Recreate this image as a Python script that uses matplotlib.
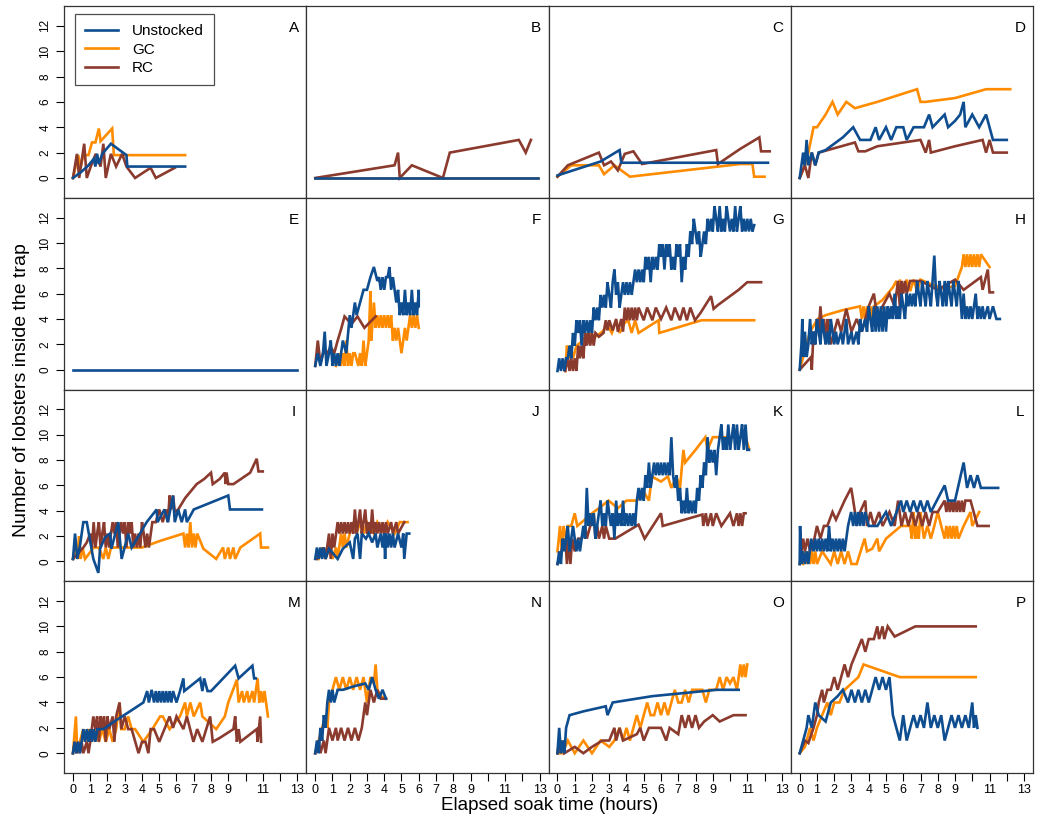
import matplotlib
matplotlib.use("Agg")
import matplotlib.pyplot as plt
from matplotlib.lines import Line2D

plt.rcParams['font.family'] = ['Liberation Sans', 'DejaVu Sans']

# colours
C_UN = '#0e4d8f'
C_GC = '#ff8c00'
C_RC = '#8b3a2e'

series_names = ['Unstocked', 'GC', 'RC']
panel_letters = list('ABCDEFGHIJKLMNOP')
x_ticks = list(range(0, 14))
x_ticklabels = ['0', '1', '2', '3', '4', '5', '6', '7', '8', '9', '', '11', '', '13']
y_ticks = [0, 2, 4, 6, 8, 10, 12]

# (hours, lobsters)
A_UN = [(0,0),(0.5,0.5),(0.9,1),(1.2,1.5),(1.3,0.9),(1.4,1.9),(1.5,1.1),(1.7,1.9),(2.2,2.7),(3.1,1.8),(3.15,0.9),(6.5,0.9)]
A_GC = [(0,0),(0.3,1.8),(0.45,0.9),(0.6,1.8),(0.9,1.8),(1.1,2.8),(1.3,2.8),(1.5,3.9),(1.6,2.9),(2.27,3.9),(2.37,1.8),(6.5,1.8)]
A_RC = [(0,0),(0.23,1.9),(0.36,0),(0.65,2.7),(0.8,0),(1.03,0.9),(1.32,1.9),(1.6,0.9),(1.76,2.7),(1.9,0),(2.2,1.9),(2.5,0.9),(2.85,1.9),(3.1,0.9),(3.6,0),(4.5,0.8),(4.8,0),(5.9,0.8)]

B_UN = [(0,0),(12.9,0)]
B_GC = [(0,0),(12.9,0)]
B_RC = [(0,0),(4.6,1),(4.8,2),(4.9,0),(5.6,1),(7.4,0),(7.8,2),(11.8,3),(12.2,2),(12.5,3)]

C_UN_ = [(0,0.2),(2.5,1.3),(3.6,2.2),(3.7,1.2),(12.2,1.2)]
C_GC_ = [(0,0.1),(0.8,1),(2.4,1),(2.7,0.3),(3.3,1),(4.2,0.1),(10.6,1.1),(11.3,1.1),(11.4,0.1),(12.0,0.1)]
C_RC_ = [(0,0.1),(0.6,1.0),(2.4,2),(2.7,1),(3.1,1.3),(3.5,0.6),(3.9,1.9),(4.4,2.1),(4.9,1.1),(9.2,2.2),(9.3,1.1),(10.6,2.3),(11.7,3.2),(11.8,2.1),(12.3,2.1)]

D_UN = [(0,0),(0.2,2),(0.3,1),(0.4,3),(0.5,1),(0.7,2),(0.9,1),(1.1,2),(1.5,2.2),(2.5,3.2),(3.1,4),(3.5,3),(4.1,3),(4.4,4),(4.6,3),(5.0,4),(5.3,3),(5.6,4),(6.0,4),(6.2,3),(6.6,4),(7.2,4),(7.5,5),(7.7,4),(8.4,5),(8.6,4),(9.0,4.5),(9.3,5),(9.5,6),(9.6,4),(10.0,5),(10.4,4),(10.8,5),(11.0,4),(11.2,3),(12.0,3)]
D_GC = [(0,0),(0.3,1),(0.5,2),(0.8,4),(1.0,4),(1.5,5),(1.9,6),(2.2,5),(2.7,6),(3.2,5.5),(4.5,6),(6.8,7),(7.0,6),(7.3,6),(9.0,6.3),(10.8,7),(12.2,7)]
D_RC = [(0,0),(0.3,1),(0.5,0),(0.7,2),(0.9,1),(1.1,2),(3.2,2.8),(3.4,2.1),(3.8,2.1),(4.5,2.5),(7.0,3),(7.3,2),(7.5,3),(7.6,2),(9.0,2.5),(10.6,3),(10.8,2),(11.0,3),(11.2,2),(12.0,2)]

E_UN = [(0,0),(13,0)]

F_UN = [(0,0.3),(0.15,1.3),(0.3,0.3),(0.45,1.3),(0.55,3),(0.65,0.3),(0.8,1.3),(0.9,2.3),(1.0,0.3),(1.1,1.3),(1.2,0.3),(1.3,1.3),(1.4,0.3),(1.6,2.3),(1.8,1.3),(2.0,4.3),(2.1,3.3),(2.3,5.3),(2.4,4.3),(2.6,5.3),(2.8,6.3),(3.0,6.3),(3.2,7.3),(3.4,8.1),(3.6,7.0),(3.7,7.3),(3.8,6.3),(3.9,7.3),(4.0,6.3),(4.1,7.3),(4.2,7.3),(4.3,8.1),(4.4,6.3),(4.5,7.3),(4.6,6.3),(4.7,5.3),(4.8,6.3),(4.9,4.3),(5.0,5.3),(5.1,4.3),(5.2,6.3),(5.3,4.3),(5.4,5.3),(5.5,4.3),(5.6,6.3),(5.7,4.3),(5.8,5.3),(5.9,4.3),(6.0,6.3),(6.0,5.0)]
F_GC = [(1.2,0.3),(1.4,1.3),(1.5,0.3),(1.6,1.3),(1.7,0.3),(1.8,2.3),(1.9,0.3),(2.0,1.3),(2.1,0.3),(2.2,1.3),(2.3,1.3),(2.5,0.3),(2.6,1.3),(2.7,0.3),(2.8,2.3),(2.9,0.3),(3.0,1.3),(3.1,2.3),(3.2,6.2),(3.25,2.3),(3.3,3.3),(3.4,5.3),(3.5,3.3),(3.6,4.3),(3.7,3.3),(3.8,4.3),(3.9,3.3),(4.0,4.3),(4.1,3.3),(4.2,4.3),(4.3,3.3),(4.4,4.3),(4.5,2.3),(4.6,3.3),(4.7,2.3),(4.8,3.3),(5.0,1.3),(5.2,3.3),(5.3,2.3),(5.4,3.3),(5.5,4.3),(5.6,3.3),(5.7,4.3),(5.8,3.3),(5.9,4.3),(6.0,3.3)]
F_RC = [(0,0.3),(0.15,2.3),(0.3,0.5),(0.45,1.3),(0.7,1.3),(0.9,1.8),(1.1,1.3),(1.3,2.3),(1.5,3.2),(1.7,4.2),(2.1,3.6),(2.45,4.2),(2.85,3.3),(3.5,4.2)]

G_UN = [(0.0,-0.1),(0.1,0.9),(0.2,-0.1),(0.3,0.9),(0.4,-0.1),(0.5,0.9),(0.6,0.9),(0.7,1.9),(0.8,0.9),(0.9,2.9),(1.0,1.9),(1.1,3.9),(1.2,2.9),(1.3,3.9),(1.4,1.9),(1.5,3.9),(1.6,2.9),(1.7,3.9),(1.8,2.9),(1.9,3.9),(2.0,2.9),(2.1,4.9),(2.2,3.9),(2.3,4.9),(2.4,3.9),(2.5,5.9),(2.6,4.9),(2.7,5.9),(2.8,4.9),(2.9,6.9),(3.0,5.9),(3.1,4.9),(3.2,6.9),(3.3,7.9),(3.4,5.9),(3.5,6.9),(3.6,4.9),(3.7,5.9),(3.8,6.9),(3.9,5.9),(4.0,6.9),(4.1,5.9),(4.2,6.9),(4.3,5.9),(4.4,6.9),(4.5,7.9),(4.6,6.9),(4.7,7.9),(4.8,6.9),(4.9,7.9),(5.0,6.9),(5.1,8.9),(5.2,7.9),(5.3,8.9),(5.4,6.9),(5.5,8.9),(5.6,7.9),(5.7,8.9),(5.8,7.9),(5.9,9.9),(6.0,8.9),(6.1,9.9),(6.2,7.9),(6.3,9.9),(6.4,8.9),(6.5,9.9),(6.6,7.9),(6.7,8.9),(6.8,7.9),(6.9,9.9),(7.0,8.9),(7.1,9.9),(7.2,6.9),(7.3,8.9),(7.4,7.9),(7.5,9.9),(7.6,8.9),(7.7,10.9),(7.8,9.9),(7.9,11.9),(8.0,10.9),(8.1,9.9),(8.2,10.9),(8.3,8.9),(8.4,9.9),(8.5,10.9),(8.6,9.9),(8.7,11.9),(8.8,10.9),(8.9,11.9),(9.0,10.9),(9.1,12.9),(9.2,11.9),(9.3,10.9),(9.4,12.9),(9.5,10.9),(9.6,11.9),(9.7,10.9),(9.8,12.9),(9.9,11.9),(10.0,10.9),(10.1,11.9),(10.2,10.9),(10.3,12.9),(10.4,10.9),(10.5,11.9),(10.6,12.9),(10.7,10.9),(10.8,11.9),(10.9,10.9),(11.0,11.9),(11.1,10.9),(11.2,11.9),(11.3,10.9),(11.4,11.4)]
G_GC = [(0.45,-0.1),(0.55,1.9),(0.65,0.9),(0.75,1.9),(0.9,0.9),(1.1,1.9),(1.4,2.2),(1.8,2.9),(2.2,2.6),(2.6,3),(2.9,3.5),(3.15,2.9),(3.4,3.9),(3.6,2.9),(3.9,3.7),(4.1,3.9),(4.3,2.9),(4.5,3.9),(4.7,2.9),(5.86,3.9),(5.9,2.9),(8.35,3.9),(11.4,3.9)]
G_RC = [(0.45,-0.1),(0.6,0.9),(0.7,-0.1),(0.8,0.9),(0.9,-0.1),(1.0,0.9),(1.1,-0.1),(1.2,1.9),(1.3,0.9),(1.4,1.9),(1.5,0.9),(1.6,2.9),(1.7,1.9),(1.8,2.9),(1.9,1.9),(2.0,2.9),(2.1,1.9),(2.2,2.9),(2.4,2.6),(2.67,2.9),(2.8,3.9),(2.9,3.1),(3.0,3.9),(3.2,3.1),(3.4,4.0),(3.5,3.0),(3.7,4.0),(3.8,3.0),(3.9,4.9),(4.0,3.9),(4.1,4.9),(4.2,3.9),(4.3,4.9),(4.4,3.9),(4.5,4.9),(4.6,3.9),(4.7,4.9),(5.0,3.9),(5.2,4.9),(5.5,3.9),(5.7,4.9),(6.0,4.0),(6.3,4.9),(6.6,3.9),(6.8,4.9),(7.1,3.9),(7.3,4.9),(7.5,3.9),(7.7,4.9),(7.97,3.9),(8.3,4.5),(8.9,5.8),(9.05,4.8),(9.3,5.1),(10.5,6.3),(11.0,6.9),(11.8,6.9)]

H_UN = [(0.0,0),(0.1,2),(0.15,4),(0.2,1),(0.3,3),(0.4,1),(0.5,2),(0.6,4),(0.7,2),(0.8,3),(0.9,2),(1.0,4),(1.1,3),(1.2,2),(1.3,4),(1.4,3),(1.5,2),(1.6,3),(1.7,2),(1.8,4),(1.9,3),(2.0,2),(2.1,3),(2.2,2),(2.4,3),(2.5,2),(2.7,4),(2.8,2),(3.0,3),(3.1,2),(3.3,3),(3.4,2),(3.5,4),(3.6,3),(3.8,4),(3.9,3),(4.0,5),(4.1,4),(4.2,3),(4.3,5),(4.4,3),(4.5,5),(4.6,3),(4.7,5),(4.8,3),(4.9,5),(5.0,3),(5.1,5),(5.2,4),(5.3,5),(5.4,4),(5.5,6),(5.6,4),(5.7,5),(5.8,4),(5.9,6),(6.0,5),(6.1,4),(6.2,6),(6.3,5),(6.4,6),(6.5,5),(6.6,6),(6.7,5),(6.8,7),(6.9,6),(7.0,5),(7.1,7),(7.2,6),(7.3,5),(7.4,7),(7.5,6),(7.6,5),(7.7,7),(7.8,9),(7.9,6),(8.0,5),(8.1,7),(8.2,6),(8.3,5),(8.4,7),(8.5,5),(8.6,7),(8.7,6),(8.8,5),(8.9,7),(9.0,6),(9.1,5),(9.2,7),(9.3,6),(9.4,4),(9.5,6),(9.6,4),(9.7,5),(9.8,4),(9.9,5),(10.0,4),(10.2,6),(10.3,4),(10.4,5),(10.5,4),(10.6,5),(10.7,4),(10.9,5),(11.0,4),(11.2,5),(11.4,4),(11.6,4)]
H_GC = [(0,0),(0.2,1),(0.4,2),(0.6,3),(1.04,4),(1.5,4.3),(2.5,4.7),(3.5,5.0),(3.6,4),(3.7,5),(3.8,4),(3.9,5),(4.0,4),(4.1,5),(4.2,4),(4.3,5),(4.8,5.5),(5.4,6.5),(5.6,7),(5.7,6.2),(5.8,7.1),(6.0,6.2),(6.2,7.1),(6.4,6.2),(6.6,7.1),(6.8,6.2),(7.0,7.1),(7.5,6.8),(8.3,6.4),(9.0,6.6),(9.4,8.1),(9.5,9.1),(9.6,8.1),(9.7,9.1),(9.8,8.1),(9.9,9.1),(10.0,8.1),(10.1,9.1),(10.2,8.1),(10.3,9.1),(10.4,8.1),(10.5,9.1),(11.0,8.1)]
H_RC = [(0,0),(0.66,1),(0.7,0),(0.8,3),(0.9,2),(1.0,4),(1.1,3),(1.2,5),(1.3,3),(1.4,4),(1.5,2),(1.6,4),(1.7,3),(1.8,2),(2.0,3),(2.2,4),(2.4,3),(2.7,4.8),(3.0,3),(3.3,4),(3.6,3),(4.0,5),(4.3,6),(4.5,4),(4.8,5),(5.2,6),(5.5,5),(5.7,7),(5.8,5),(5.9,7),(6.0,6),(6.1,7),(6.2,6),(6.4,7),(7.0,7),(8.0,6.3),(9.0,7.1),(9.5,6.3),(10.5,7.3),(10.6,6.3),(10.9,7.9),(11.0,6.1),(11.2,6.1)]

I_UN = [(0,0.2),(0.12,2.2),(0.25,0.2),(0.4,1.2),(0.6,3.1),(0.8,3.1),(1.18,0.2),(1.47,-0.9),(1.57,1.0),(1.86,1.9),(2.15,2.2),(2.23,1.0),(2.45,2.2),(2.63,3.1),(2.82,0.2),(3.2,2.2),(3.4,1.1),(3.8,2.0),(4.27,3.1),(4.85,4.1),(4.9,3.1),(5.3,4.1),(5.5,3.1),(5.8,5.2),(5.9,3.1),(6.1,4.1),(6.3,3.1),(6.5,4.1),(6.6,3.1),(7.0,4.1),(9.0,5.2),(9.1,4.1),(10.95,4.1)]
I_GC = [(0,0.2),(0.15,1.1),(0.25,0.2),(0.35,2.0),(0.45,0.2),(0.55,1.1),(0.7,0.2),(1.2,1.1),(1.5,1.1),(1.76,0.2),(1.9,1.1),(2.05,0.2),(2.2,1.1),(3.0,1.1),(4.0,1.1),(5.0,1.6),(6.4,2.2),(6.5,1.1),(6.6,2.2),(6.7,1.1),(6.8,3.1),(6.9,1.1),(7.0,2.2),(7.1,1.1),(7.2,2.2),(7.56,1.0),(8.3,0.2),(8.7,1.1),(8.8,0.2),(9.0,1.1),(9.1,0.2),(9.3,1.1),(9.4,0.2),(9.7,1.1),(10.85,2.2),(10.9,1.1),(11.3,1.1)]
I_RC = [(0,0.2),(0.6,1.1),(0.8,1.5),(1.0,2.2),(1.1,1.1),(1.2,3.1),(1.3,1.1),(1.4,2.2),(1.5,3.1),(1.6,1.1),(1.7,2.2),(1.8,3.1),(1.9,1.1),(2.0,2.2),(2.1,1.1),(2.2,2.2),(2.3,3.1),(2.4,2.2),(2.5,3.1),(2.6,1.1),(2.7,2.2),(2.8,3.1),(2.9,2.2),(3.0,3.1),(3.1,1.1),(3.2,3.1),(3.3,2.2),(3.4,3.1),(3.5,1.1),(3.6,2.2),(3.7,1.1),(3.8,2.2),(3.9,1.1),(4.0,3.1),(4.1,2.2),(4.2,1.1),(4.3,2.2),(4.4,1.1),(4.6,3.1),(4.8,3.1),(5.0,4.1),(5.2,3.1),(5.4,4.1),(5.5,3.1),(5.6,5.2),(5.7,4.1),(5.8,5.2),(5.9,3.9),(6.1,4.1),(6.5,5.0),(7.17,6.1),(7.6,6.5),(8.0,7.0),(8.1,6.1),(8.5,6.5),(8.8,7.0),(8.85,6.1),(8.9,7.0),(9.0,6.1),(9.3,6.1),(10.27,7.0),(10.65,8.1),(10.75,7.1),(11.0,7.1)]

J_UN = [(0,0.2),(0.1,1.1),(0.2,0.2),(0.3,1.1),(0.4,0.2),(0.5,1.1),(0.6,0.2),(0.8,1.0),(1.3,0.2),(1.6,1.0),(2.0,1.5),(2.2,0.2),(2.3,1.8),(2.45,2.2),(2.6,0.2),(2.7,2.2),(2.94,1.8),(3.1,2.2),(3.3,1.5),(3.5,2.2),(3.6,1.1),(3.8,2.2),(3.9,1.1),(4.0,2.2),(4.05,0.2),(4.1,2.2),(4.2,1.1),(4.3,2.2),(4.4,1.1),(4.5,2.2),(4.6,1.1),(4.8,2.2),(5.0,1.1),(5.1,2.2),(5.16,0.2),(5.3,2.2),(5.45,2.2)]
J_GC = [(0.2,0.2),(0.4,1.1),(0.6,0.2),(0.8,1.1),(1.0,0.2),(1.2,1.1),(1.3,0.2),(1.5,2.2),(1.6,1.1),(1.7,2.2),(1.8,1.1),(2.0,2.2),(2.2,3.1),(2.4,2.2),(2.6,3.1),(2.8,2.2),(3.0,3.1),(3.4,2.2),(3.6,3.1),(4.0,2.2),(4.2,3.1),(4.6,2.2),(4.9,3.1),(5.35,3.1)]
J_RC = [(0.1,0.2),(0.5,1.1),(0.6,0.2),(0.8,2.2),(0.9,0.2),(1.0,2.2),(1.1,1.1),(1.3,3.1),(1.4,2.2),(1.5,3.1),(1.6,2.2),(1.7,3.1),(1.8,2.2),(1.9,3.1),(2.0,2.2),(2.1,3.1),(2.2,2.2),(2.3,4.1),(2.4,2.2),(2.5,3.1),(2.6,4.1),(2.7,2.2),(2.8,3.1),(2.9,4.1),(3.0,2.2),(3.1,3.1),(3.2,2.2),(3.3,4.1),(3.4,2.2),(3.5,3.1),(3.6,2.2),(3.7,3.1),(3.8,2.2),(3.9,3.1),(4.0,2.2),(4.1,3.1),(4.2,2.2),(4.4,3.1),(4.5,2.2),(4.7,3.1),(4.8,2.2),(5.16,3.1)]

K_UN = [(0.0,-0.2),(0.1,0.8),(0.2,-0.2),(0.3,1.8),(0.4,0.8),(0.5,1.8),(0.6,2.8),(0.7,0.8),(0.8,1.8),(0.9,2.8),(1.0,1.8),(1.1,0.8),(1.2,1.8),(1.3,0.8),(1.4,1.8),(1.5,2.8),(1.6,1.8),(1.7,5.8),(1.8,2.8),(1.9,3.8),(2.0,2.8),(2.1,3.8),(2.2,1.8),(2.3,2.8),(2.4,3.8),(2.5,4.8),(2.6,2.8),(2.7,3.8),(2.8,2.8),(2.9,4.8),(3.0,3.8),(3.1,2.8),(3.2,3.8),(3.3,1.8),(3.4,4.8),(3.5,2.8),(3.6,3.8),(3.7,2.8),(3.8,4.8),(3.9,2.8),(4.0,3.8),(4.1,2.8),(4.2,3.8),(4.3,2.8),(4.4,3.8),(4.5,2.8),(4.6,4.8),(4.7,5.8),(4.8,4.8),(4.9,5.8),(5.0,4.8),(5.1,6.8),(5.2,5.8),(5.3,7.8),(5.4,5.8),(5.5,6.8),(5.6,7.8),(5.7,6.8),(5.8,7.8),(5.9,6.8),(6.0,7.8),(6.1,6.8),(6.2,7.8),(6.3,6.8),(6.4,7.8),(6.5,6.8),(6.6,9.8),(6.7,6.8),(6.8,5.8),(6.9,6.8),(7.0,4.8),(7.1,5.8),(7.2,3.8),(7.3,4.8),(7.4,3.8),(7.5,5.8),(7.6,3.8),(7.7,4.8),(7.8,3.8),(7.9,4.8),(8.0,3.8),(8.1,5.8),(8.2,4.8),(8.3,6.8),(8.4,5.8),(8.5,7.8),(8.6,6.8),(8.7,9.8),(8.8,7.8),(8.9,8.8),(9.0,7.8),(9.1,8.8),(9.2,6.8),(9.3,8.8),(9.4,9.8),(9.5,10.8),(9.6,8.8),(9.7,9.8),(9.8,8.8),(9.9,10.8),(10.0,8.8),(10.1,9.8),(10.2,10.8),(10.3,8.8),(10.4,10.8),(10.5,8.8),(10.6,9.8),(10.7,10.8),(10.8,8.8),(10.9,10.8),(11.0,8.8),(11.1,8.8)]
K_GC = [(0,0.8),(0.15,2.8),(0.25,0.8),(0.35,2.8),(0.5,1.8),(0.6,2.8),(0.8,2.8),(1.0,3.8),(1.15,2.8),(1.5,3.2),(2.0,3.8),(2.4,4.2),(2.96,4.8),(3.5,4.2),(4.0,4.8),(4.6,4.8),(5.0,5.5),(5.3,4.8),(5.47,6.7),(6.0,6.3),(6.4,6.7),(6.6,5.8),(6.9,6.7),(7.1,5.8),(7.3,8.8),(7.4,7.8),(8.0,8.8),(8.57,9.8),(8.7,8.8),(9.0,9.8),(10.9,9.8),(11.1,8.9)]
K_RC = [(0,-0.2),(0.45,1.8),(0.55,-0.2),(0.64,1.8),(0.75,-0.2),(0.85,1.8),(1.0,0.8),(1.2,1.8),(1.4,1.8),(1.6,2.8),(1.7,1.8),(1.9,2.8),(2.1,3.8),(2.2,1.8),(2.3,2.8),(2.4,1.8),(2.6,2.8),(2.7,1.8),(2.8,2.8),(3.0,1.8),(3.35,1.8),(4.7,2.9),(5.05,1.8),(6.0,3.8),(6.1,2.8),(8.4,3.7),(8.45,2.8),(8.6,3.8),(8.7,2.8),(8.9,3.8),(9.0,2.8),(9.2,3.8),(9.5,2.8),(10.0,3.8),(10.2,2.8),(10.4,3.8),(10.5,2.8),(10.6,3.8),(10.7,2.8),(10.8,3.8),(10.9,3.8)]

L_UN = [(0,-0.2),(0.02,2.8),(0.1,-0.2),(0.2,0.8),(0.3,-0.2),(0.4,0.8),(0.5,-0.2),(0.66,1.8),(0.8,0.8),(0.9,1.8),(1.0,0.8),(1.1,1.8),(1.2,0.8),(1.3,1.8),(1.4,0.8),(1.5,1.8),(1.6,0.8),(1.7,2.8),(1.8,0.8),(1.9,1.8),(2.0,0.8),(2.1,1.8),(2.2,0.8),(2.3,1.8),(2.4,0.8),(2.5,1.8),(2.6,0.8),(2.7,1.8),(2.8,2.8),(2.98,3.9),(3.1,2.8),(3.2,3.9),(3.3,2.8),(3.4,3.9),(3.5,2.8),(3.6,3.9),(3.7,2.8),(3.8,3.9),(4.0,2.8),(4.5,2.8),(5.0,3.9),(5.3,2.8),(5.87,4.8),(6.0,3.9),(6.2,4.8),(6.4,3.9),(6.6,4.8),(6.8,3.9),(7.0,4.8),(7.2,3.9),(7.4,4.8),(7.6,3.9),(8.4,6.0),(8.6,4.8),(9.0,4.8),(9.2,6.0),(9.5,7.8),(9.7,5.8),(9.9,6.8),(10.1,5.8),(10.3,6.8),(10.5,5.8),(11.5,5.8)]
L_GC = [(0.2,-0.2),(0.3,0.8),(0.4,-0.2),(0.5,0.8),(0.6,-0.2),(0.7,0.8),(0.8,-0.2),(0.9,0.8),(1.0,-0.2),(1.3,0.8),(1.8,-0.2),(2.0,0.8),(2.2,-0.2),(2.4,0.8),(2.6,-0.2),(2.8,0.8),(3.0,-0.2),(3.3,-0.2),(3.76,1.8),(3.9,0.8),(4.2,1.0),(4.5,1.8),(4.6,0.8),(5.0,1.8),(5.87,2.8),(6.4,2.8),(6.5,1.8),(6.6,3.9),(6.7,1.8),(6.8,2.8),(6.9,1.8),(7.0,3.9),(7.1,2.8),(7.2,1.8),(7.4,2.8),(7.6,1.8),(7.8,2.8),(8.0,3.9),(8.2,2.8),(8.4,1.8),(8.5,2.8),(8.6,1.8),(8.7,2.8),(8.8,1.8),(8.9,2.8),(9.0,1.8),(9.1,2.8),(9.2,1.8),(9.5,2.8),(9.9,3.9),(10.0,2.8),(10.4,3.9)]
L_RC = [(0,-0.2),(0.2,1.8),(0.3,0.8),(0.45,1.8),(0.6,0.8),(0.85,1.8),(1.0,2.8),(1.2,1.8),(1.4,2.8),(1.6,2.8),(1.9,3.9),(2.1,3.3),(2.6,4.8),(2.98,5.8),(3.1,4.8),(3.2,3.9),(3.3,2.8),(3.5,3.9),(3.8,4.8),(3.9,2.8),(4.1,3.9),(4.3,2.8),(4.6,3.9),(4.8,2.8),(5.2,3.9),(5.5,2.8),(5.7,4.8),(5.9,2.8),(6.1,3.9),(6.3,2.8),(6.5,3.9),(6.7,2.8),(6.9,3.9),(7.1,2.8),(7.3,3.9),(7.5,2.8),(7.7,3.9),(8.0,3.9),(8.4,4.8),(8.5,3.9),(8.6,4.8),(8.7,3.9),(8.8,4.8),(8.9,3.9),(9.0,4.8),(9.1,3.9),(9.2,4.8),(9.3,3.9),(9.4,4.8),(9.5,3.9),(9.6,4.8),(9.9,4.8),(10.3,2.8),(10.95,2.8)]

M_UN = [(0,0),(0.1,0.9),(0.2,0),(0.3,0.9),(0.4,0),(0.5,0.9),(0.6,1.9),(0.7,0.9),(0.8,1.9),(0.9,0.9),(1.0,1.9),(1.1,0.9),(1.2,1.9),(1.3,0.9),(1.4,1.9),(1.76,1.9),(2.5,2.6),(3.3,3.3),(4.08,4.0),(4.3,4.9),(4.4,4.0),(4.56,5.0),(4.7,4.0),(4.8,4.9),(4.9,4.0),(5.0,4.9),(5.1,4.0),(5.2,4.9),(5.3,4.0),(5.4,4.9),(5.5,4.0),(5.6,4.9),(5.7,4.0),(5.8,4.9),(6.0,4.0),(6.2,4.9),(6.4,5.9),(6.45,4.9),(7.37,5.9),(7.5,4.9),(7.6,5.9),(7.8,4.9),(8.0,4.9),(9.4,6.9),(9.6,5.9),(10.4,6.9),(10.5,5.9),(10.6,5.9)]
M_GC = [(0,0),(0.17,2.9),(0.25,0),(0.4,0.9),(0.6,1.9),(0.7,0.9),(0.9,1.9),(1.1,0.9),(1.3,1.9),(1.5,0.9),(1.7,1.9),(1.9,0.9),(2.1,1.9),(2.3,0.9),(2.5,1.9),(2.7,4.0),(2.8,1.9),(3.0,1.9),(3.2,2.9),(3.4,1.9),(3.6,1.9),(4.08,0.9),(4.6,1.9),(5.05,2.9),(5.2,2.9),(5.6,1.9),(6.2,2.9),(6.5,4.0),(6.6,2.9),(6.8,4.0),(7.0,2.9),(7.37,4.0),(7.5,2.9),(8.3,1.9),(8.8,2.9),(9.0,4.0),(9.5,5.8),(9.6,4.0),(9.8,4.9),(9.9,4.0),(10.1,4.9),(10.2,4.0),(10.4,4.9),(10.5,4.0),(10.7,5.9),(10.8,4.0),(10.9,4.9),(11.0,4.0),(11.1,4.9),(11.3,2.9)]
M_RC = [(0,0),(0.1,0.9),(0.2,0),(0.3,0.9),(0.4,0),(0.5,0.9),(0.6,0),(0.8,0.9),(0.9,0),(1.0,0.9),(1.18,2.9),(1.3,1.9),(1.4,2.9),(1.5,0.9),(1.6,2.9),(1.7,1.9),(1.8,2.9),(1.9,0.9),(2.0,2.9),(2.1,1.9),(2.3,2.9),(2.4,0.9),(2.5,2.9),(2.7,4.0),(2.8,1.9),(3.0,2.9),(3.2,1.9),(3.4,1.9),(3.8,0),(4.0,0.9),(4.2,0.9),(4.37,0),(4.5,1.9),(4.7,1.9),(5.0,0.9),(5.3,1.9),(5.6,2.9),(5.8,2.0),(6.0,2.9),(6.4,1.9),(6.6,2.9),(6.98,0.9),(7.2,1.9),(7.5,0.9),(7.95,2.9),(8.1,0.9),(8.5,1.2),(9.3,1.9),(9.4,2.9),(9.5,0.9),(9.6,1.9),(9.7,0.9),(10.65,1.9),(10.7,0.9),(10.85,2.9),(10.9,0.9)]

N_UN = [(0,0),(0.1,1),(0.2,0),(0.3,2),(0.4,1),(0.5,3),(0.6,2),(0.7,4),(0.8,5),(0.9,4),(1.0,5),(1.1,4),(1.3,5),(1.6,5),(2.3,5.3),(2.9,5.5),(3.1,5),(3.3,6),(3.5,5),(3.7,4.3),(3.9,5),(4.1,4.3)]
N_GC = [(0,0),(0.2,1),(0.4,2),(0.6,3),(0.7,2),(0.8,4),(1.0,5),(1.2,6),(1.4,5),(1.6,6),(1.8,5),(2.0,6),(2.2,5),(2.4,6),(2.6,5),(2.8,6),(3.0,4),(3.2,6),(3.4,5.5),(3.5,7),(3.6,5),(3.8,4.5),(4.1,4.3)]
N_RC = [(0,0),(0.2,1),(0.3,0),(0.5,1),(0.6,0),(0.8,2),(1.0,1),(1.2,2),(1.3,1),(1.5,2),(1.7,1),(1.9,2),(2.1,1),(2.3,2),(2.5,1),(2.7,2),(2.9,4),(3.0,3),(3.2,5),(3.4,4),(3.6,5),(3.8,4.3),(4.1,4.3)]

O_UN = [(0,0),(0.1,2),(0.2,0),(0.3,1),(0.4,0),(0.5,2),(0.7,3),(1.5,3.3),(2.8,3.7),(2.9,3.0),(3.2,4),(5.5,4.5),(8.5,4.9),(9.2,5),(10.5,5)]
O_GC = [(0,0),(0.3,0),(0.6,1),(1.0,0),(1.5,1),(2.0,0),(2.5,1),(3.0,0.5),(3.3,1),(3.6,2),(3.8,1),(4.0,2),(4.2,1),(4.4,2),(4.6,3),(4.8,2),(5.0,3),(5.2,4),(5.4,3),(5.6,3),(5.8,4),(6.0,3),(6.2,4),(6.4,3),(6.6,4),(6.8,5),(7.0,4),(7.2,4),(7.4,5),(7.6,4),(7.8,5),(8.0,5),(8.4,5),(8.6,4),(8.8,5),(9.2,5),(9.4,6),(9.6,5),(9.8,6),(10.0,5.5),(10.2,6),(10.4,5),(10.6,7),(10.7,6),(10.8,7),(10.9,6),(11.0,7)]
O_RC = [(0,0),(0.1,1),(0.2,0),(0.3,1),(0.4,0),(1.0,0.5),(1.5,0),(2.0,0.5),(2.6,1),(3.0,1),(3.3,2),(3.4,1),(3.6,2),(3.8,1),(4.6,1.5),(4.8,2),(5.0,1),(5.3,2),(6.0,2),(6.3,1),(6.5,2),(7.0,1.5),(7.2,3),(7.4,2),(7.6,3),(7.8,2),(8.0,3),(8.2,2),(8.5,2.5),(9.0,3),(9.4,2.5),(10.2,3),(10.9,3)]

P_UN = [(0,0),(0.2,1),(0.4,2),(0.5,3),(0.7,2),(0.9,4),(1.1,3),(1.5,2.5),(1.8,4),(2.2,4.5),(2.5,5),(2.8,4),(3.0,5),(3.2,4),(3.4,5),(3.6,4),(3.8,5),(4.0,4),(4.2,5),(4.4,6),(4.6,5),(4.8,6),(5.0,5),(5.2,6),(5.4,3),(5.6,2),(5.8,1),(6.0,3),(6.2,1),(6.4,2),(6.6,3),(6.8,2),(7.0,3),(7.2,2),(7.4,4),(7.6,2),(7.8,3),(8.0,2),(8.2,3),(8.4,1),(8.6,2),(8.8,3),(9.0,2),(9.2,3),(9.4,2),(9.6,3),(9.8,2),(10.0,4),(10.1,2),(10.2,3),(10.3,2)]
P_GC = [(0,0),(0.3,0.5),(0.6,2),(0.8,1),(1.0,2),(1.3,3),(1.6,4),(1.8,3),(2.0,4),(2.3,4),(2.6,5),(3.0,5.5),(3.4,6),(3.7,7),(5.8,6),(10.2,6)]
P_RC = [(0,0),(0.3,1),(0.5,0.8),(0.8,2),(1.0,3),(1.1,4),(1.3,5),(1.4,4),(1.6,5),(1.8,5),(2.0,6),(2.2,5),(2.4,6),(2.6,7),(2.8,6),(3.0,7),(3.3,8),(3.6,9),(3.8,8),(4.0,9),(4.3,9),(4.5,10),(4.6,9),(4.8,10),(4.9,9),(5.1,10),(5.5,9.2),(6.7,10),(10.2,10)]

panels = [
    (A_UN, A_GC, A_RC), (B_UN, B_GC, B_RC), (C_UN_, C_GC_, C_RC_), (D_UN, D_GC, D_RC),
    (E_UN, None, None), (F_UN, F_GC, F_RC), (G_UN, G_GC, G_RC), (H_UN, H_GC, H_RC),
    (I_UN, I_GC, I_RC), (J_UN, J_GC, J_RC), (K_UN, K_GC, K_RC), (L_UN, L_GC, L_RC),
    (M_UN, M_GC, M_RC), (N_UN, N_GC, N_RC), (O_UN, O_GC, O_RC), (P_UN, P_GC, P_RC),
]

W, H = 1042, 816
fig = plt.figure(figsize=(W / 100, H / 100), dpi=100)

left0, top0 = 64, 6
pw, ph = 242.25, 191.75
narrow = ['Liberation Sans Narrow', 'Liberation Sans', 'DejaVu Sans']

for i, (un, gc, rc) in enumerate(panels):
    r, c = divmod(i, 4)
    ax = fig.add_axes([(left0 + c * pw) / W, 1 - (top0 + (r + 1) * ph) / H, pw / W, ph / H])
    for data, col in [(gc, C_GC), (rc, C_RC), (un, C_UN)]:
        if data is None:
            continue
        t, n = zip(*data)
        ax.plot(t, n, color=col, lw=1.9, solid_joinstyle='miter')
    ax.set_xlim(-0.52, 13.52)
    ax.set_ylim(-1.56, 13.56)
    for s in ax.spines.values():
        s.set_linewidth(0.9)
        s.set_color('#333333')
    ax.text(0.948, 0.885, panel_letters[i], transform=ax.transAxes,
            ha='center', va='center', fontsize=11)
    if c == 0:
        ax.set_yticks(y_ticks)
        ax.set_yticklabels([str(v) for v in y_ticks], rotation=90, va='center', fontsize=8.5)
        ax.tick_params(axis='y', direction='out', length=6, width=0.8, pad=3)
    else:
        ax.set_yticks([])
    if r == 3:
        ax.set_xticks(x_ticks)
        ax.set_xticklabels(x_ticklabels, fontsize=9, family=narrow)
        ax.tick_params(axis='x', direction='out', length=6, width=0.8, pad=2)
    else:
        ax.set_xticks([])
    if i == 0:
        handles = [Line2D([], [], color=C_UN, lw=1.9),
                   Line2D([], [], color=C_GC, lw=1.9),
                   Line2D([], [], color=C_RC, lw=1.9)]
        leg = ax.legend(handles, series_names, loc='upper left',
                        bbox_to_anchor=(0.045, 0.958), borderaxespad=0,
                        fontsize=11, frameon=True, fancybox=False,
                        handlelength=2.2, labelspacing=0.3, borderpad=0.65,
                        handletextpad=0.9)
        leg.get_frame().set_edgecolor('#222222')
        leg.get_frame().set_linewidth(0.9)

fig.text(0.527, 1 - 806 / H, 'Elapsed soak time (hours)', ha='center', va='center', fontsize=13.5)
fig.text(22 / W, 1 - 390 / H, 'Number of lobsters inside the trap', ha='center', va='center',
         rotation=90, fontsize=14)

fig.savefig('out.png', dpi=100)
